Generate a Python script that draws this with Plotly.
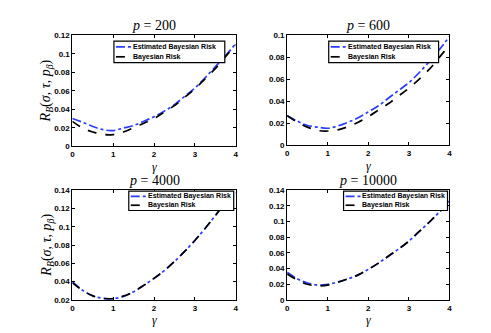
import plotly.graph_objects as go
from plotly.subplots import make_subplots

W, H = 491, 333

# gamma grid (at 0.25 steps)
gamma = [0, 0.25, 0.5, 0.75, 1, 1.25, 1.5, 1.75, 2, 2.25, 2.5, 2.75, 3, 3.25, 3.5, 3.75, 4]

# p = 200
est_200 = [0.030, 0.026, 0.0214, 0.018, 0.017, 0.0197, 0.0225, 0.027, 0.032, 0.038, 0.045, 0.054, 0.063, 0.074, 0.086, 0.098, 0.111]
bay_200 = [0.027, 0.0197, 0.0155, 0.0128, 0.0126, 0.0155, 0.020, 0.025, 0.030, 0.037, 0.044, 0.053, 0.062, 0.073, 0.084, 0.097, 0.110]
# p = 600
est_600 = [0.0268, 0.022, 0.018, 0.0165, 0.0155, 0.0176, 0.021, 0.025, 0.0304, 0.036, 0.043, 0.050, 0.057, 0.066, 0.076, 0.087, 0.099]
bay_600 = [0.027, 0.021, 0.0165, 0.0135, 0.013, 0.014, 0.017, 0.021, 0.026, 0.032, 0.038, 0.045, 0.052, 0.060, 0.069, 0.080, 0.091]
# p = 4000
est_4000 = [0.040, 0.0307, 0.0246, 0.0218, 0.0214, 0.024, 0.029, 0.036, 0.0436, 0.052, 0.062, 0.073, 0.085, 0.098, 0.112, 0.126, 0.137]
bay_4000 = [0.039, 0.0305, 0.0245, 0.0218, 0.0216, 0.0242, 0.029, 0.036, 0.0436, 0.052, 0.062, 0.073, 0.085, 0.098, 0.112, 0.126, 0.136]
# p = 10000
est_10000 = [0.0353, 0.027, 0.0217, 0.019, 0.020, 0.023, 0.027, 0.032, 0.039, 0.047, 0.056, 0.065, 0.075, 0.087, 0.099, 0.112, 0.126]
bay_10000 = [0.033, 0.0255, 0.020, 0.018, 0.019, 0.0225, 0.027, 0.032, 0.039, 0.047, 0.056, 0.065, 0.075, 0.087, 0.099, 0.112, 0.125]

titles = ["200", "600", "4000", "10000"]
est_series = [est_200, est_600, est_4000, est_10000]
bay_series = [bay_200, bay_600, bay_4000, bay_10000]
y_ranges = [[0, 0.12], [0, 0.1], [0.02, 0.14], [0, 0.14]]

# panel boxes in pixels: left, right, top, bottom
boxes = [(63, 228, 24, 138), (280, 444, 24, 137), (63, 228, 183, 296), (280, 444, 183, 296)]
# legend boxes in pixels
leg_boxes = [(105, 217, 30, 52), (322, 433, 30, 52), (120, 226, 184, 204), (337, 442, 184, 204)]

BLUE = "#2b3cff"
serif = "Liberation Serif"
sans = "Liberation Sans"
ylabel = "<i>R</i><sub><i>B</i></sub>(<i>σ</i>, <i>τ</i>, <i>p</i><sub><i>β</i></sub>)"


def px(x):
    return x / W


def py(y):
    return 1 - y / H


def label(fig, x, y, text, size, family=serif, angle=0, xanchor="center"):
    fig.add_annotation(x=px(x), y=py(y), xref="paper", yref="paper", text=text,
                       showarrow=False, xanchor=xanchor, yanchor="middle", textangle=angle,
                       borderpad=0, font=dict(family=family, size=size, color="black"))


fig = make_subplots(rows=2, cols=2)

for i in range(4):
    r, c = i // 2 + 1, i % 2 + 1
    fig.add_trace(go.Scatter(x=gamma, y=est_series[i], mode="lines", line_shape="spline",
                             line=dict(color=BLUE, width=1.7, dash="dashdot"),
                             showlegend=False), row=r, col=c)
    fig.add_trace(go.Scatter(x=gamma, y=bay_series[i], mode="lines", line_shape="spline",
                             line=dict(color="black", width=1.7, dash="dash"),
                             showlegend=False), row=r, col=c)

    l, rt, t, b = boxes[i]
    sfx = "" if i == 0 else str(i + 1)
    axis_style = dict(showline=True, linecolor="black", linewidth=1, mirror="ticks",
                      ticks="inside", ticklen=3, tickcolor="black", showgrid=False,
                      zeroline=False,
                      tickfont=dict(family=sans, size=8, color="black", weight="bold"))
    fig.layout["xaxis" + sfx].update(domain=[px(l), px(rt)], range=[0, 4], dtick=1, **axis_style)
    fig.layout["yaxis" + sfx].update(domain=[py(b), py(t)], range=y_ranges[i], dtick=0.02,
                                     **axis_style)

    cx = (l + rt) / 2
    label(fig, cx, t - 10, "<i>p</i> = " + titles[i], 14)
    label(fig, cx, b + 21, "<i>γ</i>", 12)
    if c == 1:
        label(fig, 37, (t + b) / 2, ylabel, 14, angle=-90)

    # legend box
    lx0, lx1, ly0, ly1 = leg_boxes[i]
    fig.add_shape(type="rect", xref="paper", yref="paper", layer="above",
                  x0=px(lx0), x1=px(lx1), y0=py(ly1), y1=py(ly0),
                  line=dict(color="black", width=1.2), fillcolor="white")
    rows_y = [ly0 + (ly1 - ly0) * 0.27, ly0 + (ly1 - ly0) * 0.73]
    styles = [(BLUE, "dashdot", "Estimated Bayesian Risk"), ("black", "dash", "Bayesian Risk")]
    for yy, (col, dash, name) in zip(rows_y, styles):
        fig.add_shape(type="line", xref="paper", yref="paper", layer="above",
                      x0=px(lx0 + 2), x1=px(lx0 + 18), y0=py(yy), y1=py(yy),
                      line=dict(color=col, width=1.7, dash=dash))
        label(fig, lx0 + 18, yy, "<b>" + name + "</b>", 7, family=sans, xanchor="left")

fig.update_layout(
    width=W, height=H,
    margin=dict(l=0, r=0, t=0, b=0),
    paper_bgcolor="white",
    plot_bgcolor="white",
    showlegend=False,
)

fig.write_html("out.html")
